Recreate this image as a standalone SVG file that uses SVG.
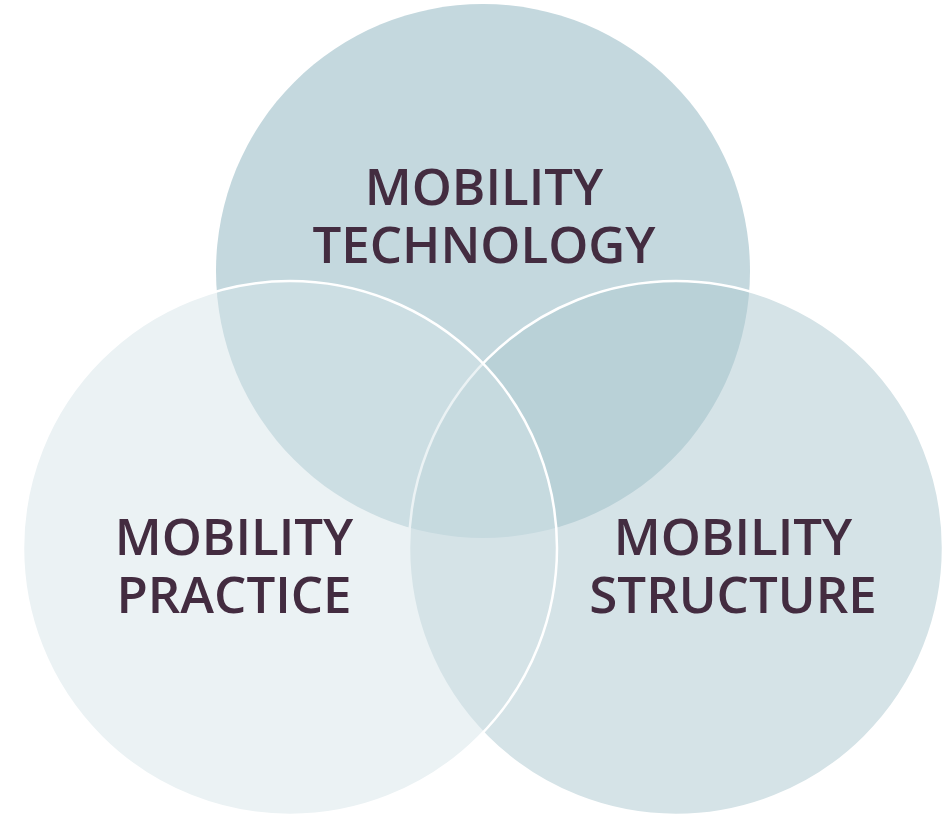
<svg xmlns="http://www.w3.org/2000/svg" width="943" height="815" viewBox="0 0 943 815">
<style>
.lbl{font-family:"Open Sans","Noto Sans","Liberation Sans",sans-serif;font-weight:600;font-size:51px;fill:#432c40;text-anchor:middle}
.ring{stroke:#ffffff;stroke-width:2.5}
</style>
<rect width="943" height="815" fill="#ffffff"/>
<g id="technology">
<circle cx="483" cy="271" r="267" fill="#c4d8de"/>
</g>
<g id="structure">
<circle class="ring" cx="676" cy="548" r="267" fill="rgb(176,202,210)" fill-opacity="0.53"/>
</g>
<g id="practice">
<circle class="ring" cx="290" cy="548" r="267" fill="rgb(214,228,233)" fill-opacity="0.48"/>
</g>
<g id="labels">
<text class="lbl" x="484" y="205">MOBILITY</text>
<text class="lbl" x="484" y="263">TECHNOLOGY</text>
<text class="lbl" x="234" y="555">MOBILITY</text>
<text class="lbl" x="234" y="613">PRACTICE</text>
<text class="lbl" x="733" y="555">MOBILITY</text>
<text class="lbl" x="733" y="613">STRUCTURE</text>
</g>
<g id="connectors"></g>
</svg>
